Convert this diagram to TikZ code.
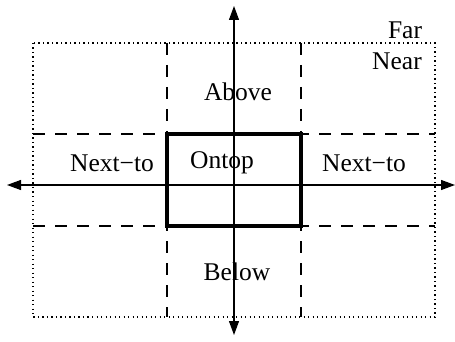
\documentclass[tikz,border=0pt]{standalone}
\usepackage{fontspec}
\setmainfont{Liberation Serif}
\usetikzlibrary{arrows.meta}
\begin{document}
\begin{tikzpicture}[x=1pt,y=-1pt,
  lbl/.style={font=\fontsize{25.5}{30}\selectfont, inner sep=0pt},
  thinline/.style={line width=1.1pt},
  dashline/.style={thinline, dash pattern=on 12pt off 10pt},
  dotline/.style={thinline, dash pattern=on 1.3pt off 3.2pt},
  axis/.style={line width=1.1pt, -{Triangle[length=14pt,width=10pt]}},
  boxstyle/.style={draw, line width=3.5pt, minimum width=134pt, minimum height=92pt, inner sep=0pt}
]
\useasboundingbox (0,0) rectangle (455,342);
% outer near/far boundary
\draw[dotline] (33,43) rectangle (435,317);
% dashed bands
\draw[dashline] (33,134) -- (435,134);
\draw[dashline] (33,226) -- (435,226);
\draw[dashline] (167,43) -- (167,317);
\draw[dashline] (301,43) -- (301,317);
% central box
\node[boxstyle] (box) at (234,180) {};
% axes
\coordinate (c) at (234,185);
\coordinate (xl) at (7,185);
\coordinate (xr) at (455,185);
\coordinate (yt) at (234,6);
\coordinate (yb) at (234,335);
\draw[axis] (c) -- (xl);
\draw[axis] (c) -- (xr);
\draw[axis] (c) -- (yt);
\draw[axis] (c) -- (yb);
% labels
\node[lbl] (far) at (405,30) {Far};
\node[lbl] (near) at (397,61) {Near};
\node[lbl] (above) at (238,92) {Above};
\node[lbl] (below) at (237,272) {Below};
\node[lbl] (ontop) at (222,163) {Ontop};
\node[lbl] (nextl) at (112,163) {Next−to};
\node[lbl] (nextr) at (364,163) {Next−to};
\end{tikzpicture}
\end{document}
